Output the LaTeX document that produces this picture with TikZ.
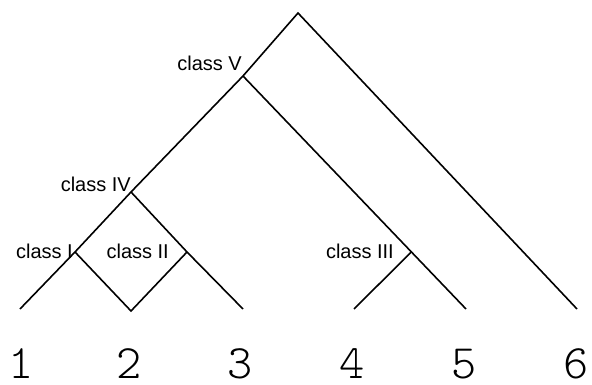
\documentclass[tikz,border=0pt]{standalone}
\usepackage{fontspec}
\usetikzlibrary{calc}
\newfontfamily\labelfont{Liberation Sans}
\newfontfamily\digitfont{lmmonolt10-regular.otf}
\begin{document}
\begin{tikzpicture}[x=1pt,y=-1pt,
  branch/.style={line width=1.6pt,black,line join=miter},
  clabel/.style={anchor=base east,inner sep=0pt,font=\labelfont\fontsize{20}{20}\selectfont},
  leaflabel/.style={anchor=base,inner sep=0pt,font=\digitfont\fontsize{48}{48}\selectfont}]
\useasboundingbox (0,0) rectangle (592,385);
% junctions
\coordinate (T) at (298,13);
\coordinate (V) at (243,76);
\coordinate (IV) at (131,192);
\coordinate (I) at (75,252);
\coordinate (II) at (187,252);
\coordinate (D) at (131,311);
\coordinate (L1) at (20,309);
\coordinate (L3) at (243,309);
\coordinate (L4) at (354,309);
\coordinate (L5) at (466,309);
\coordinate (L6) at (577,309);
\coordinate (III) at ($(V)!0.755!(L5)$);
% branches
\draw[branch] (L1) -- (I) -- (IV) -- (V) -- (T) -- (L6);
\draw[branch] (V) -- (III) -- (L5);
\draw[branch] (IV) -- (II) -- (L3);
\draw[branch] (I) -- (D) -- (II);
\draw[branch] (III) -- (L4);
% labels
\node[clabel] (lV) at (242,71) {class V};
\node[clabel] (lIV) at (131,192) {class IV};
\node[clabel] (lI) at (73,258) {class I};
\node[clabel] (lII) at (169,258) {class II};
\node[clabel] (lIII) at (394,258) {class III};
% leaves
\node[leaflabel] (n1) at (21,378) {1};
\node[leaflabel] (n2) at (129,378) {2};
\node[leaflabel] (n3) at (240,378) {3};
\node[leaflabel] (n4) at (352,378) {4};
\node[leaflabel] (n5) at (464,378) {5};
\node[leaflabel] (n6) at (576,378) {6};
\end{tikzpicture}
\end{document}
